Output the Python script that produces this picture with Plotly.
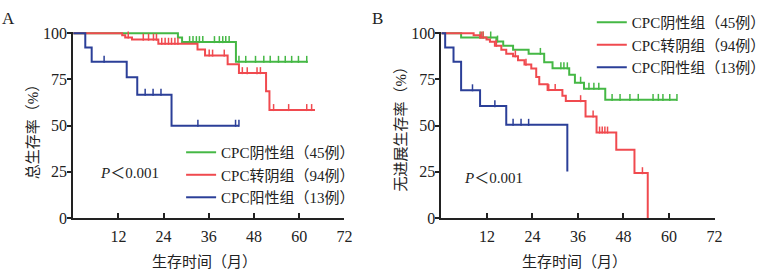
import numpy as np
import plotly.graph_objects as go

# ---------------- data ----------------
group_names = ["CPC阴性组（45例）", "CPC转阴组（94例）", "CPC阳性组（13例）"]
colors = ["#45b845", "#f04a4f", "#2b3f98"]

# Panel A: overall survival (%)
os_green_t = [27.8, 28.9, 43.2]
os_green_s = [97.7, 95.3, 84.6]
os_green_c = [9.5, 11.2, 13.0, 15.2, 16.0, 18.9, 25.9, 30.9, 31.8, 32.7, 33.5, 34.4,
              37.5, 38.8, 39.7, 40.5, 41.4, 44.0, 45.8, 48.4, 50.6, 52.3, 54.5, 56.3,
              58.0, 59.8, 62.0]
os_green_end = 62.3

os_red_t = [13.0, 13.8, 15.6, 22.6, 33.0, 35.0, 41.0, 44.0, 51.2, 52.1]
os_red_s = [98.9, 97.8, 96.6, 94.4, 91.3, 88.0, 83.2, 78.5, 68.7, 58.5]
os_red_c = [6.0, 6.8, 7.7, 8.5, 9.9, 10.7, 11.6, 14.6, 18.6, 20.0, 21.3, 22.1, 23.5,
            24.4, 25.3, 26.1, 27.0, 27.8, 36.1, 37.0, 40.1, 44.9, 46.2, 48.8, 49.7,
            53.2, 57.2, 62.0, 63.3]
os_red_end = 64.2

os_blue_t = [3.2, 4.9, 14.2, 17.0, 26.1]
os_blue_s = [92.3, 84.6, 76.2, 66.8, 50.0]
os_blue_c = [8.2, 19.1, 21.2, 23.3, 33.1, 43.1, 44.0]
os_blue_end = 44.0

# Panel B: progression-free survival (%)
pfs_green_t = [5.2, 14.5, 16.3, 18.9, 23.0, 27.1, 29.3, 33.7, 35.2, 37.6, 43.2]
pfs_green_s = [97.8, 95.6, 93.3, 91.1, 88.9, 84.4, 81.1, 77.6, 73.3, 70.0, 64.0]
pfs_green_c = [10.2, 11.0, 13.0, 14.8, 26.1, 31.5, 32.3, 33.2, 36.7, 38.9, 40.2, 41.5,
               45.0, 47.1, 49.7, 51.9, 55.8, 57.2, 58.4, 60.2, 62.1]
pfs_green_end = 62.1

pfs_red_t = [8.5, 10.2, 11.9, 12.8, 14.1, 15.8, 17.1, 18.9, 20.2, 21.9, 23.7, 25.0,
             25.8, 28.0, 31.9, 32.8, 38.0, 40.9, 46.1, 50.9, 54.4]
pfs_red_s = [98.9, 97.8, 96.7, 95.5, 93.3, 91.1, 88.9, 87.6, 85.4, 83.1, 80.9, 76.4,
             72.4, 69.3, 66.2, 63.3, 55.0, 46.3, 36.9, 24.3, 0.0]
pfs_red_c = [5.8, 6.3, 6.7, 7.6, 8.0, 10.5, 11.0, 14.5, 19.5, 22.3, 28.3, 30.0, 36.7,
             40.0, 41.7, 42.4, 43.1, 43.8, 53.0]
pfs_red_end = 54.4

pfs_blue_t = [1.0, 3.2, 5.2, 10.2, 17.1, 33.2]
pfs_blue_s = [92.3, 84.6, 69.2, 60.6, 50.5, 25.2]
pfs_blue_c = [8.2, 14.1, 18.9, 21.0, 23.0]
pfs_blue_end = 33.2

x_ticks = [12, 24, 36, 48, 60, 72]
y_ticks = [0, 25, 50, 75, 100]

panels = {
    "A": [(os_green_t, os_green_s, os_green_c, os_green_end),
          (os_red_t, os_red_s, os_red_c, os_red_end),
          (os_blue_t, os_blue_s, os_blue_c, os_blue_end)],
    "B": [(pfs_green_t, pfs_green_s, pfs_green_c, pfs_green_end),
          (pfs_red_t, pfs_red_s, pfs_red_c, pfs_red_end),
          (pfs_blue_t, pfs_blue_s, pfs_blue_c, pfs_blue_end)],
}

# ---------------- figure ----------------
W, H = 772, 275
serif = "Liberation Serif, Times New Roman, Noto Sans CJK SC, serif"
txt = "#222222"

fig = go.Figure()
censor_offset = 1.3


def step_value(times, surv, t):
    tt = np.array([0.0] + list(times))
    ss = np.array([100.0] + list(surv))
    idx = np.searchsorted(tt, t, side="right") - 1
    return ss[idx]


axes_ids = {"A": ("x", "y", "legend"), "B": ("x2", "y2", "legend2")}
for key, groups in panels.items():
    xa, ya, lg = axes_ids[key]
    for gi, (t, s, c, end) in enumerate(groups):
        xs = [0.0] + list(t)
        ys = [100.0] + list(s)
        if end > xs[-1]:
            xs.append(end)
            ys.append(ys[-1])
        fig.add_trace(go.Scatter(
            x=xs, y=ys, mode="lines", line=dict(color=colors[gi], width=2, shape="hv"),
            name=group_names[gi], xaxis=xa, yaxis=ya, legend=lg, showlegend=True,
            hoverinfo="skip"))
        cy = [step_value(t, s, ci) + censor_offset for ci in c]
        fig.add_trace(go.Scatter(
            x=c, y=cy, mode="markers", cliponaxis=False,
            marker=dict(symbol="line-ns", size=5, line=dict(color=colors[gi], width=1.5)),
            xaxis=xa, yaxis=ya, showlegend=False, hoverinfo="skip"))

ybot = (H - 224) / H
ytop = (H - 26.4) / H
axis_common = dict(showline=True, linecolor="#222", linewidth=2, showgrid=False,
                   zeroline=False, tickwidth=2, tickcolor="#222",
                   tickfont=dict(family=serif, size=16, color=txt))

fig.update_layout(
    width=W, height=H, margin=dict(l=0, r=0, t=0, b=0),
    paper_bgcolor="white", plot_bgcolor="white",
    xaxis=dict(domain=[74 / W, 348 / W], range=[0, 72], tickvals=x_ticks,
               ticks="inside", ticklen=5, anchor="y", ticklabelstandoff=3, **axis_common),
    yaxis=dict(domain=[ybot, ytop], range=[0, 100.8], tickvals=y_ticks,
               ticks="outside", ticklen=4, anchor="x", ticklabelstandoff=-3, **axis_common),
    xaxis2=dict(domain=[446 / W, 722 / W], range=[0, 72], tickvals=x_ticks,
                ticks="inside", ticklen=5, anchor="y2", ticklabelstandoff=3, **axis_common),
    yaxis2=dict(domain=[ybot, ytop], range=[0, 100.8], tickvals=y_ticks,
                ticks="outside", ticklen=4, anchor="x2", ticklabelstandoff=-3, **axis_common),
    legend=dict(x=183 / W, y=1 - 137 / H, xanchor="left", yanchor="top",
                font=dict(family=serif, size=15, color=txt), bgcolor="rgba(0,0,0,0)",
                tracegroupgap=0, itemwidth=30),
    legend2=dict(x=598 / W, y=1 + 1 / H, xanchor="left", yanchor="top",
                 font=dict(family=serif, size=15, color=txt), bgcolor="rgba(0,0,0,0)",
                 tracegroupgap=0, itemwidth=30),
    showlegend=True,
)

ann_font = dict(family=serif, size=15, color=txt)
annotations = [
    dict(text="A", x=9 / W, y=1 - 12 / H, font=dict(family=serif, size=17, color=txt)),
    dict(text="B", x=381 / W, y=1 - 12 / H, font=dict(family=serif, size=17, color=txt)),
    dict(text="总生存率（%）", x=33 / W, y=1 - 128 / H, textangle=-90, font=ann_font),
    dict(text="无进展生存率（%）", x=405 / W, y=1 - 125 / H, textangle=-90, font=ann_font),
    dict(text="生存时间（月）", x=207 / W, y=1 - 271 / H, font=ann_font),
    dict(text="生存时间（月）", x=581 / W, y=1 - 271 / H, font=ann_font),
    dict(text="<i>P</i>＜0.001", x=131 / W, y=1 - 176 / H, font=ann_font),
    dict(text="<i>P</i>＜0.001", x=499 / W, y=1 - 182 / H, font=ann_font),
]
for a in annotations:
    a.update(xref="paper", yref="paper", showarrow=False, xanchor="center", yanchor="middle")
fig.update_layout(annotations=annotations)

fig.write_html("out.html")
